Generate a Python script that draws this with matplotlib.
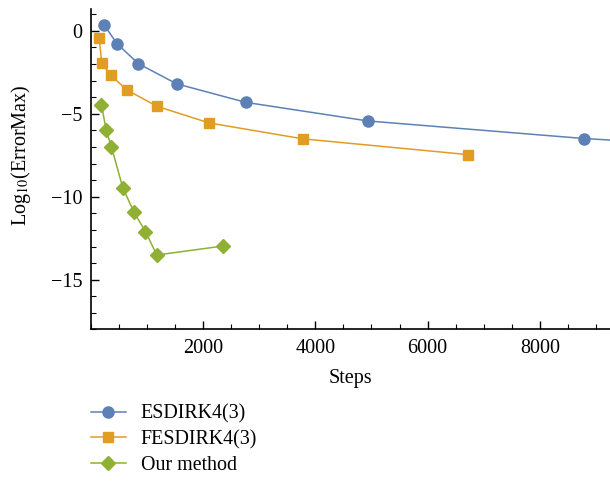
import matplotlib
matplotlib.use("Agg")
import matplotlib.pyplot as plt
from matplotlib.ticker import MultipleLocator

plt.rcParams['font.family'] = ['Liberation Serif', 'DejaVu Serif']
plt.rcParams['mathtext.fontset'] = 'stix'

# Data
esdirk_steps = [235, 467, 848, 1526, 2761, 4935, 8790, 15700]
esdirk_err = [0.36, -0.78, -1.98, -3.19, -4.31, -5.43, -6.49, -7.85]

fesdirk_steps = [146, 194, 355, 646, 1180, 2107, 3782, 6723]
fesdirk_err = [-0.40, -1.94, -2.69, -3.57, -4.55, -5.55, -6.51, -7.46]

our_steps = [189, 271, 367, 569, 770, 973, 1174, 2356]
our_err = [-4.45, -5.97, -7.00, -9.46, -10.94, -12.10, -13.51, -12.97]

labels = ["ESDIRK4(3)", "FESDIRK4(3)", "Our method"]
colors = ["#5E81B5", "#E19C24", "#8FB032"]

xticks = [2000, 4000, 6000, 8000]
yticks = [0, -5, -10, -15]

fig = plt.figure(figsize=(6.1, 4.9), dpi=100)
ax = fig.add_axes([0.149, 0.3276, 0.851, 0.6534])

ax.plot(esdirk_steps, esdirk_err, '-o', color=colors[0], lw=1.1, ms=8, label=labels[0])
ax.plot(fesdirk_steps, fesdirk_err, '-s', color=colors[1], lw=1.1, ms=7.5, label=labels[1])
ax.plot(our_steps, our_err, '-D', color=colors[2], lw=1.1, ms=6.8, label=labels[2])

ax.set_xlim(0, 9250)
ax.set_ylim(-18, 1.3)
ax.set_xticks(xticks)
ax.set_yticks(yticks)
ax.set_yticklabels(["0", "\u22125", "\u221210", "\u221215"])
ax.xaxis.set_minor_locator(MultipleLocator(500))
ax.yaxis.set_minor_locator(MultipleLocator(1))
ax.tick_params(which='major', direction='in', length=6, width=1, labelsize=14.5, colors='black')
ax.tick_params(axis='x', which='major', pad=7)
ax.tick_params(axis='y', which='major', pad=6)
ax.tick_params(which='minor', direction='in', length=3.5, width=0.8)
for s in ['top', 'right']:
    ax.spines[s].set_visible(False)
for s in ['left', 'bottom']:
    ax.spines[s].set_linewidth(1.2)

ax.set_xlabel("Steps", fontsize=14.5, labelpad=8)
ax.set_ylabel(r"Log$_{10}$(ErrorMax)", fontsize=14.5)
ax.yaxis.set_label_coords(-0.112, 0.545)

fig.legend(loc='center left', bbox_to_anchor=(0.149, 0.103), frameon=False,
           fontsize=14.4, handlelength=1.75, handletextpad=0.75, labelspacing=0.32,
           borderpad=0, borderaxespad=0)

fig.savefig("out.png", dpi=100)
